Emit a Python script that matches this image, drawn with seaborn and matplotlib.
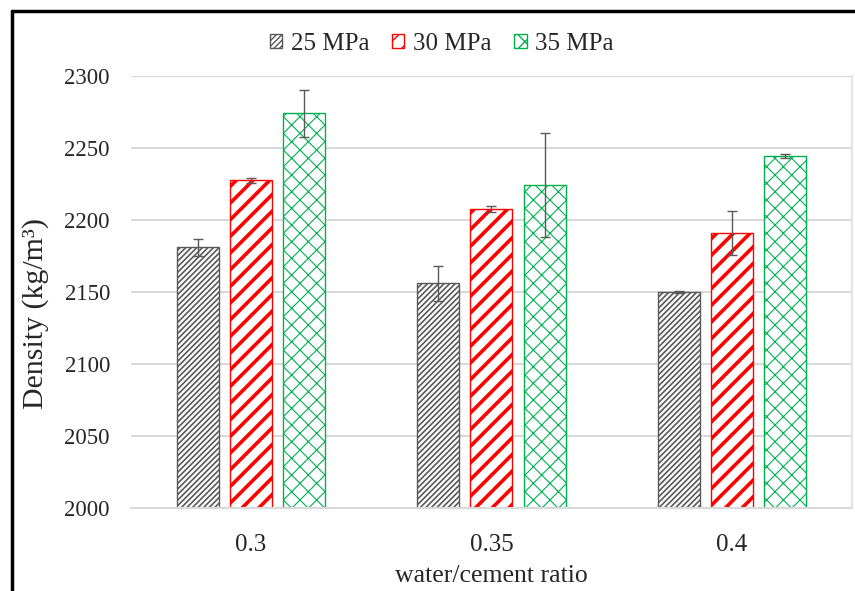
import pandas as pd
import matplotlib.pyplot as plt
import seaborn as sns
from matplotlib.lines import Line2D

# data
ratios = ["0.3", "0.35", "0.4"]
strengths = ["25 MPa", "30 MPa", "35 MPa"]
density_25 = [2181, 2156, 2150]
density_30 = [2227.5, 2207.5, 2191]
density_35 = [2274, 2224.5, 2244.5]
err_25 = [6, 12, 1]
err_30 = [2, 2, 15]
err_35 = [16.5, 36, 1.5]

df = pd.DataFrame({
    "ratio": ratios * 3,
    "strength": [s for s in strengths for _ in ratios],
    "density": density_25 + density_30 + density_35,
})
errors = [err_25, err_30, err_35]

sns.set_style("white")
plt.rcParams["font.family"] = ["Liberation Serif", "DejaVu Serif"]

colors = ["#595959", "#ff0000", "#00b050"]
hatches = ["//////", "//", "//\\\\"]
hatch_lw = [1.2, 2.6, 0.8]

fig = plt.figure(figsize=(8.55, 5.91), dpi=100)
ax = fig.add_axes([0.153, 0.1404, 0.8435, 0.731])

sns.barplot(data=df, x="ratio", y="density", hue="strength", order=ratios,
            hue_order=strengths, palette=["white"] * 3, width=0.663, gap=0.21,
            legend=False, errorbar=None, ax=ax)

bars = list(ax.containers)
for i, cont in enumerate(bars):
    cont.set_label(strengths[i])
    for p in cont:
        p.set_facecolor("white")
        p.set_edgecolor(colors[i])
        p.set_linewidth(1.0)
        p.set_hatch(hatches[i])
        if hasattr(p, "set_hatch_linewidth"):
            p.set_hatch_linewidth(hatch_lw[i])
    xs = [p.get_x() + p.get_width() / 2 for p in cont]
    ys = [p.get_height() for p in cont]
    ax.errorbar(xs, ys, yerr=errors[i], fmt="none", ecolor="#595959",
                elinewidth=1.0, capsize=3.5, capthick=1.0, zorder=5)

ax.set_ylim(2000, 2300)
ax.set_xlim(-0.5, 2.5)
ax.set_yticks(range(2000, 2301, 50))
ax.yaxis.grid(True, color="#d9d9d9", linewidth=1.5)
ax.set_axisbelow(True)
for side in ["top", "left"]:
    ax.spines[side].set_visible(False)
ax.spines["bottom"].set_color("#d9d9d9")
ax.spines["bottom"].set_linewidth(1.5)
ax.spines["right"].set_color("#e6e6e6")
ax.spines["right"].set_linewidth(1.5)
ax.tick_params(axis="y", labelsize=16.5, length=0, pad=15)
ax.tick_params(axis="x", labelsize=18, length=0, pad=19)
ax.set_xlabel("water/cement ratio", fontsize=18.5, labelpad=6)
ax.set_ylabel("Density (kg/m³)", fontsize=21.5)
ax.yaxis.set_label_coords(-0.113, 0.45)

ax.legend(handles=bars, loc="center", bbox_to_anchor=(0.431, 1.075),
          ncol=3, frameon=False, fontsize=18, handlelength=0.5,
          handleheight=0.5, handletextpad=0.35, columnspacing=0.9)

# black frame at the top and left of the image
fig.add_artist(Line2D([0.0135, 1.0], [0.9815, 0.9815], color="black", lw=2.5))
fig.add_artist(Line2D([0.0135, 0.0135], [0.0, 0.9815], color="black", lw=2.5))

plt.savefig("out.png", dpi=100)
